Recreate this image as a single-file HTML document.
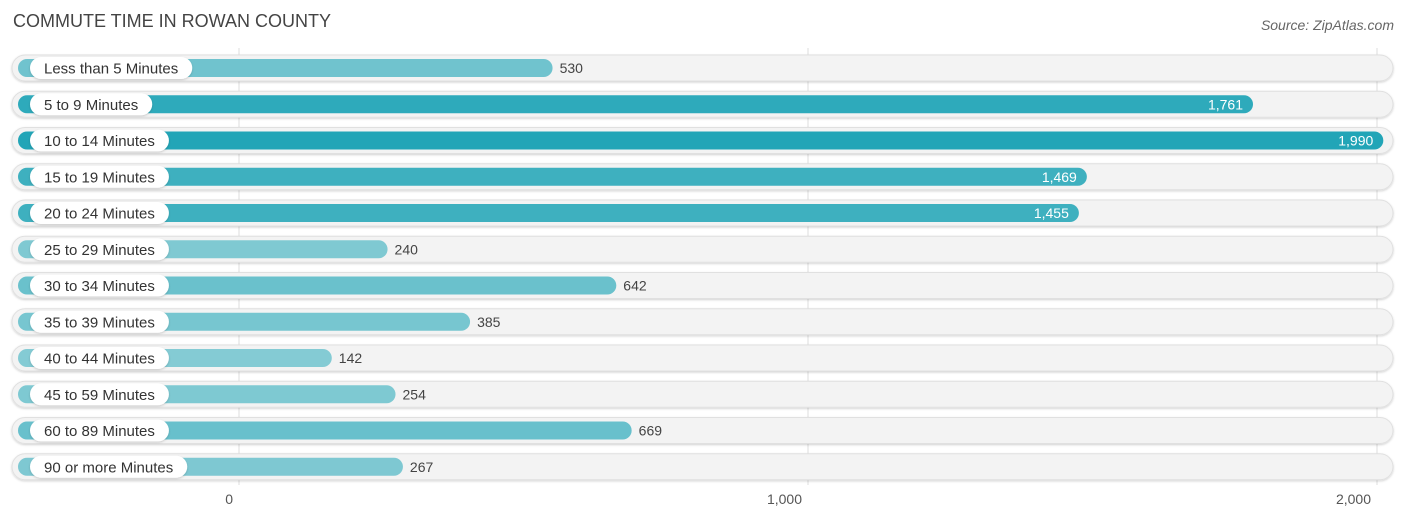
<!DOCTYPE html>
<html><head><meta charset="utf-8"><style>
body{margin:0;background:#fff;font-family:"Liberation Sans",sans-serif;}
</style></head><body>
<svg id="c" width="1406" height="522" xmlns="http://www.w3.org/2000/svg">
<defs><filter id="sh" x="-5%" y="-30%" width="110%" height="160%"><feDropShadow dx="0" dy="1" stdDeviation="1" flood-color="#000" flood-opacity="0.18"/></filter></defs>
<text x="13" y="27" font-size="18" fill="#444">COMMUTE TIME IN ROWAN COUNTY</text>
<text x="1394" y="30" font-size="14" fill="#666" font-style="italic" text-anchor="end">Source: ZipAtlas.com</text>
<g id="grid"></g><g id="rows"></g><g id="ticks"></g>
</svg>
<script>
const categories=["Less than 5 Minutes","5 to 9 Minutes","10 to 14 Minutes","15 to 19 Minutes","20 to 24 Minutes","25 to 29 Minutes","30 to 34 Minutes","35 to 39 Minutes","40 to 44 Minutes","45 to 59 Minutes","60 to 89 Minutes","90 or more Minutes"];
const values=[530,1761,1990,1469,1455,240,642,385,142,254,669,267];
const tickValues=[0,1000,2000];
const tickLabels=["0","1,000","2,000"];
const NS="http://www.w3.org/2000/svg";
const x0=239,pxPer=0.569;
const xs=v=>x0+v*pxPer;
const ys=i=>68+i*36.25;
function mk(t,a,p){const e=document.createElementNS(NS,t);for(const k in a)e.setAttribute(k,a[k]);p.appendChild(e);return e;}
const grid=document.getElementById('grid'),rows=document.getElementById('rows'),ticks=document.getElementById('ticks');
const maxV=Math.max(...values);
function col(v){const t=v/maxV;const a=[140,206,214],b=[34,165,183];return `rgb(${a.map((c,i)=>Math.round(c+(b[i]-c)*t)).join(',')})`;}
categories.forEach((c,i)=>{
 const y=ys(i);
 const tr=mk('rect',{x:12,y:y-13,width:1381,height:26,rx:13,fill:'#f3f3f3',stroke:'#e0e0e0','stroke-width':1,filter:'url(#sh)'},rows);
 
});
tickValues.forEach((v,i)=>{
 const l=mk('line',{x1:xs(v),x2:xs(v),y1:48,y2:485,stroke:'#ddd','stroke-width':1},grid);
 
 const t=mk('text',{x:xs(v)-6,y:504,'font-size':14,fill:'#555','text-anchor':'end'},ticks);
 t.textContent=tickLabels[i];
 
});
rows.parentNode.appendChild(rows);
categories.forEach((c,i)=>{
 const y=ys(i),v=values[i],end=xs(v)+12;
 const g=mk('g',{},rows);
 
 const b=mk('rect',{x:18,y:y-9,width:end-18,height:18,rx:9,fill:col(v)},g);
 
 const lbl=mk('text',{x:44,y:y+5.5,'font-size':15,fill:'#333'},g);
 lbl.textContent=c;
 const w=lbl.getComputedTextLength();
 const p=mk('rect',{x:30,y:y-11,width:w+28,height:22,rx:11,fill:'#fff',filter:'url(#sh)'},g);
 g.insertBefore(p,lbl);
 
 
 const inside=v>1000;
 const vt=mk('text',{x:inside?end-10:end+7,y:y+5,'font-size':14,fill:inside?'#fff':'#444','text-anchor':inside?'end':'start'},g);
 vt.textContent=v.toLocaleString('en-US');
 
});
</script>
</body></html>
